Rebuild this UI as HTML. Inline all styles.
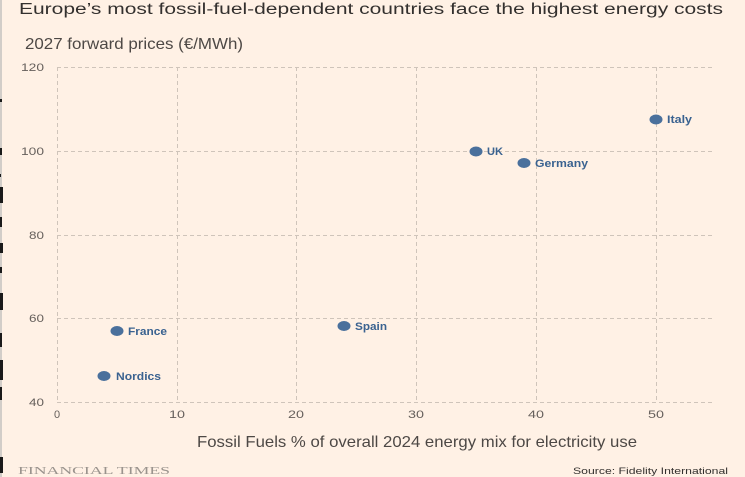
<!DOCTYPE html>
<html><head><meta charset="utf-8">
<style>
html,body{margin:0;padding:0;background:#fff1e5;}
svg{display:block;}
</style></head>
<body>
<svg width="745" height="477" viewBox="0 0 745 477" xmlns="http://www.w3.org/2000/svg">
<rect x="0" y="0" width="745" height="477" fill="#fff1e5"/>
<rect x="0" y="0" width="2" height="477" fill="#d2cdc8"/>
<g fill="#1a1a1a">
<rect x="0" y="99" width="2" height="3"/>
<rect x="0" y="148" width="2" height="7"/>
<rect x="0" y="174" width="1" height="3"/>
<rect x="0" y="187" width="3" height="16"/>
<rect x="0" y="217" width="2" height="10"/>
<rect x="0" y="243" width="3" height="10"/>
<rect x="0" y="267" width="2" height="6"/>
<rect x="0" y="293" width="3" height="17"/>
<rect x="0" y="333" width="2" height="14"/>
<rect x="0" y="360" width="3" height="20"/>
<rect x="0" y="387" width="2" height="13"/>
<rect x="0" y="457" width="3" height="16"/>
</g>

<text x="19" y="14" font-family="Liberation Sans, sans-serif" font-size="15.5" fill="#33302e" textLength="704" lengthAdjust="spacingAndGlyphs">Europe’s most fossil-fuel-dependent countries face the highest energy costs</text>
<text x="25" y="49" font-family="Liberation Sans, sans-serif" font-size="16" fill="#4d4845" textLength="218" lengthAdjust="spacingAndGlyphs">2027 forward prices (€/MWh)</text>

<g stroke="#cfc4ba" stroke-width="1" stroke-dasharray="4,3" fill="none">
<line x1="57" y1="67.5" x2="715" y2="67.5"/>
<line x1="57" y1="151.5" x2="715" y2="151.5"/>
<line x1="57" y1="235.5" x2="715" y2="235.5"/>
<line x1="57" y1="318.5" x2="715" y2="318.5"/>
<line x1="57" y1="402.5" x2="715" y2="402.5"/>
<line x1="57.5" y1="67" x2="57.5" y2="402"/>
<line x1="177.5" y1="67" x2="177.5" y2="402"/>
<line x1="296.5" y1="67" x2="296.5" y2="402"/>
<line x1="416.5" y1="67" x2="416.5" y2="402"/>
<line x1="536.5" y1="67" x2="536.5" y2="402"/>
<line x1="656.5" y1="67" x2="656.5" y2="402"/>
</g>

<g font-family="Liberation Sans, sans-serif" font-size="11" fill="#66605c">
<text x="44" y="71" text-anchor="end" textLength="23" lengthAdjust="spacingAndGlyphs">120</text>
<text x="44" y="155" text-anchor="end" textLength="23" lengthAdjust="spacingAndGlyphs">100</text>
<text x="44" y="239" text-anchor="end" textLength="15" lengthAdjust="spacingAndGlyphs">80</text>
<text x="44" y="322" text-anchor="end" textLength="15" lengthAdjust="spacingAndGlyphs">60</text>
<text x="44" y="406" text-anchor="end" textLength="15" lengthAdjust="spacingAndGlyphs">40</text>
<text x="57" y="418" text-anchor="middle">0</text>
<text x="177" y="418" text-anchor="middle" textLength="16" lengthAdjust="spacingAndGlyphs">10</text>
<text x="296" y="418" text-anchor="middle" textLength="16" lengthAdjust="spacingAndGlyphs">20</text>
<text x="416" y="418" text-anchor="middle" textLength="16" lengthAdjust="spacingAndGlyphs">30</text>
<text x="536" y="418" text-anchor="middle" textLength="16" lengthAdjust="spacingAndGlyphs">40</text>
<text x="656" y="418" text-anchor="middle" textLength="16" lengthAdjust="spacingAndGlyphs">50</text>
</g>

<g fill="#4a709c">
<ellipse cx="656" cy="119.5" rx="6.5" ry="5"/>
<ellipse cx="476" cy="151.5" rx="6.5" ry="5"/>
<ellipse cx="524" cy="163" rx="6.5" ry="5"/>
<ellipse cx="117" cy="331" rx="6.5" ry="5"/>
<ellipse cx="344" cy="326" rx="6.5" ry="5"/>
<ellipse cx="104" cy="376" rx="6.5" ry="5"/>
</g>
<g font-family="Liberation Sans, sans-serif" font-size="11" font-weight="bold" fill="#3a6290">
<text x="667" y="123" textLength="25" lengthAdjust="spacingAndGlyphs">Italy</text>
<text x="487" y="155" textLength="16" lengthAdjust="spacingAndGlyphs">UK</text>
<text x="535" y="167" textLength="53" lengthAdjust="spacingAndGlyphs">Germany</text>
<text x="128" y="335" textLength="39" lengthAdjust="spacingAndGlyphs">France</text>
<text x="355" y="330" textLength="32" lengthAdjust="spacingAndGlyphs">Spain</text>
<text x="116" y="380" textLength="45" lengthAdjust="spacingAndGlyphs">Nordics</text>
</g>

<text x="197" y="447" font-family="Liberation Sans, sans-serif" font-size="16" fill="#4d4845" textLength="440" lengthAdjust="spacingAndGlyphs">Fossil Fuels % of overall 2024 energy mix for electricity use</text>
<text x="18" y="474" font-family="Liberation Serif, serif" font-size="11" fill="#9a938d" textLength="152" lengthAdjust="spacingAndGlyphs">FINANCIAL TIMES</text>
<text x="728" y="474" text-anchor="end" font-family="Liberation Sans, sans-serif" font-size="9.5" fill="#33302e" textLength="155" lengthAdjust="spacingAndGlyphs">Source: Fidelity International</text>
</svg>
</body></html>
